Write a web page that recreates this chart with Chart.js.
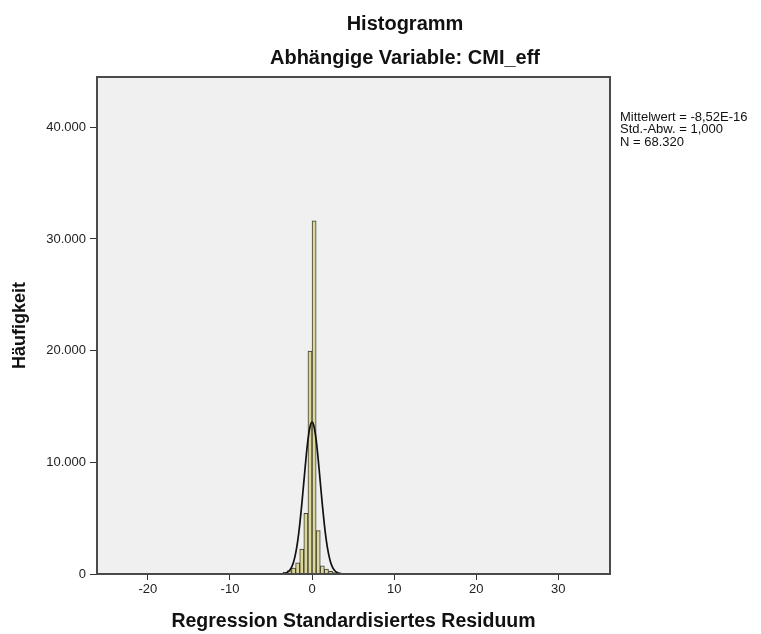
<!DOCTYPE html>
<html>
<head>
<meta charset="utf-8">
<script src="https://cdn.jsdelivr.net/npm/chart.js@4.4.0/dist/chart.umd.min.js"></script>
<style>
  html, body { margin: 0; padding: 0; background: #ffffff; }
  #wrap { width: 761px; height: 634px; }
</style>
</head>
<body>
<div id="wrap"><canvas id="histChart" width="761" height="634"></canvas></div>
<script>
// Histogram bins (width 0.5), centers and counts
const binCenters = [-4.75, -4.25, -3.75, -3.25, -2.75, -2.25, -1.75, -1.25, -0.75, -0.25,
                    0.25, 0.75, 1.25, 1.75, 2.25, 2.75, 3.25, 3.75, 4.25, 4.75];
const binCounts  = [20, 40, 70, 150, 300, 540, 1000, 2240, 5430, 19960,
                    31620, 3880, 730, 450, 230, 130, 80, 50, 30, 20];

// Normal curve overlay
const curveX = [-26.2, -6, -5, -4, -3.5, -3, -2.75, -2.5, -2.25, -2, -1.75, -1.5, -1.25, -1, -0.75, -0.5, -0.25,
                0, 0.25, 0.5, 0.75, 1, 1.25, 1.5, 1.75, 2, 2.25, 2.5, 2.75, 3, 3.5, 4, 5, 6, 36.3];
const curveY = [0, 0, 1, 5, 30, 150, 310, 600, 1080, 1840, 2940, 4420, 6230, 8250, 10270, 12000, 13180,
                13600, 13180, 12000, 10270, 8250, 6230, 4420, 2940, 1840, 1080, 600, 310, 150, 30, 5, 1, 0, 0];

const xTickValues = [-20, -10, 0, 10, 20, 30];
const yTickValues = [0, 10000, 20000, 30000, 40000];

const titleText = 'Histogramm';
const subtitleText = 'Abhängige Variable: CMI_eff';
const xTitle = 'Regression Standardisiertes Residuum';
const yTitle = 'Häufigkeit';
const statLines = ['Mittelwert = -8,52E-16', 'Std.-Abw. = 1,000', 'N = 68.320'];

const FONT = "'Liberation Sans', Arial, sans-serif";

function thousands(v) {
    return String(v).replace(/\B(?=(\d{3})+(?!\d))/g, '.');
}

// plot background, frame, headings and the stats box
const decor = {
    id: 'decor',
    beforeDraw(chart) {
        const a = chart.chartArea, ctx = chart.ctx;
        ctx.save();
        ctx.fillStyle = '#f0f0f0';
        ctx.fillRect(a.left, a.top, a.right - a.left, a.bottom - a.top);
        ctx.restore();
    },
    afterDatasetsDraw(chart) {
        const a = chart.chartArea, ctx = chart.ctx;
        ctx.save();
        ctx.strokeStyle = '#4a4a4a';
        ctx.lineWidth = 2;
        ctx.strokeRect(a.left, a.top, a.right - a.left, a.bottom - a.top);
        ctx.restore();
    },
    afterDraw(chart) {
        const ctx = chart.ctx;
        ctx.save();
        ctx.fillStyle = '#111';
        ctx.textAlign = 'center';
        ctx.textBaseline = 'alphabetic';
        ctx.font = 'bold 20px ' + FONT;
        ctx.fillText(titleText, 405, 30);
        ctx.fillText(subtitleText, 405, 64);
        ctx.textAlign = 'left';
        ctx.font = '13px ' + FONT;
        statLines.forEach((s, i) => ctx.fillText(s, 620, 120.5 + i * 12.5));
        ctx.restore();
    }
};

new Chart(document.getElementById('histChart'), {
    type: 'bar',
    data: {
        datasets: [{
            type: 'line',
            data: curveX.map((x, i) => ({ x: x, y: curveY[i] })),
            borderColor: '#111',
            borderWidth: 1.7,
            pointRadius: 0,
            cubicInterpolationMode: 'monotone',
            order: 0
        }, {
            type: 'bar',
            data: binCenters.map((x, i) => ({ x: x, y: binCounts[i] })),
            backgroundColor: '#dcd79a',
            borderColor: '#3c3c30',
            borderWidth: 1,
            categoryPercentage: 1,
            barPercentage: 1,
            order: 1
        }]
    },
    options: {
        responsive: false,
        animation: false,
        layout: { padding: { top: 77, right: 151, bottom: 0, left: 0 } },
        plugins: { legend: { display: false }, tooltip: { enabled: false } },
        scales: {
            x: {
                type: 'linear',
                min: -26.2,
                max: 36.3,
                offset: false,
                afterBuildTicks: s => { s.ticks = xTickValues.map(v => ({ value: v })); },
                afterFit: s => { s.height = 60; },
                border: { display: false },
                grid: { offset: false, drawOnChartArea: false, tickLength: 6, color: '#333', lineWidth: 1 },
                ticks: { padding: 2, color: '#222', font: { family: FONT, size: 13 }, maxRotation: 0 },
                title: { display: true, text: xTitle, color: '#111',
                         font: { family: FONT, size: 19.5, weight: 'bold' }, padding: { top: 4, bottom: 1 } }
            },
            y: {
                min: 0,
                max: 44500,
                afterBuildTicks: s => { s.ticks = yTickValues.map(v => ({ value: v })); },
                afterFit: s => { s.width = 97; },
                border: { display: false },
                grid: { drawOnChartArea: false, tickLength: 7, color: '#333', lineWidth: 1 },
                ticks: { padding: 4, color: '#222', font: { family: FONT, size: 13 }, callback: v => thousands(v) },
                title: { display: true, text: yTitle, color: '#111',
                         font: { family: FONT, size: 18, weight: 'bold' }, padding: { top: 9, bottom: 0 } }
            }
        }
    },
    plugins: [decor]
});
</script>
</body>
</html>
